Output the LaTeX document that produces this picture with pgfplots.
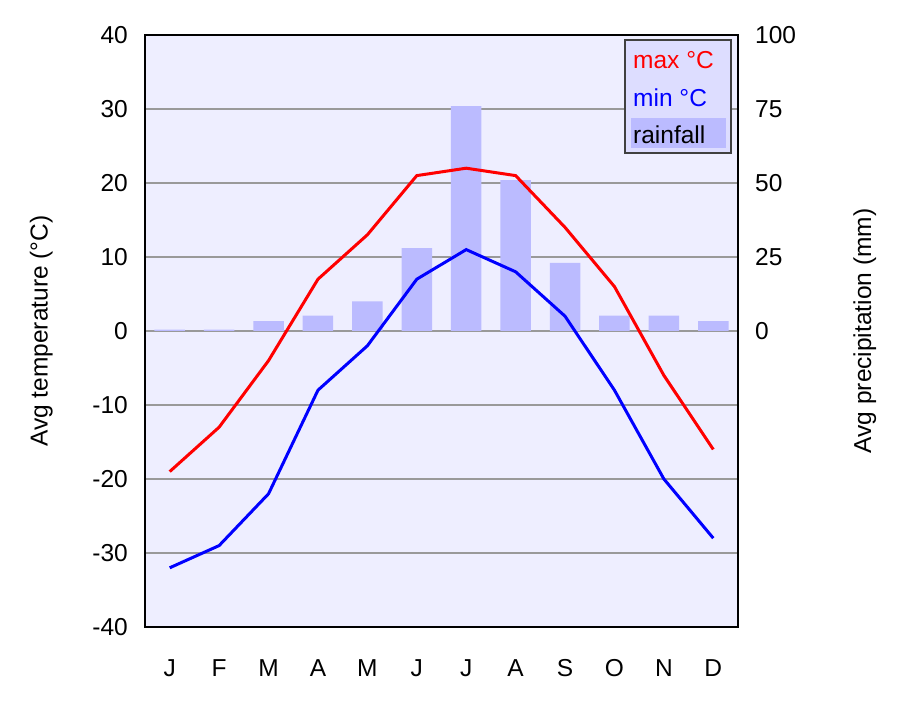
\documentclass[border=0pt]{standalone}
\usepackage{fontspec}
\setmainfont{Liberation Sans}
\usepackage{pgfplots}
\pgfplotsset{compat=1.18}
\definecolor{plotbg}{HTML}{EEEEFF}
\definecolor{barc}{HTML}{BBBBFF}
\definecolor{legbg}{HTML}{DDDDFF}
\definecolor{gridc}{HTML}{999999}
\begin{document}
\begin{tikzpicture}[x=1pt,y=1pt]
\useasboundingbox (-145,-93) rectangle (755,627);
\pgfplotsset{every axis/.append style={scale only axis, width=593pt, height=592pt,
  xmin=0.5, xmax=12.5, at={(0,0)}, anchor=south west,
  /pgf/number format/assume math mode=true,
  tick label style={font=\fontsize{24.5}{28}\selectfont, inner sep=0pt},
  label style={font=\fontsize{24.5}{28}\selectfont},
  major tick length=0pt}}
% background axis with grid
\begin{axis}[ymin=-40, ymax=40, ytick={-40,-30,...,40},
  xtick={1,...,12}, xticklabels={J,F,M,A,M,J,J,A,S,O,N,D},
  axis background/.style={fill=plotbg},
  ymajorgrids, grid style={gridc, line width=2pt},
  axis line style={line width=2pt},
  yticklabel style={xshift=-17pt},
  xticklabel style={yshift=-32pt},
  ylabel={Avg temperature (°C)},
  ylabel style={at={(axis description cs:-0.175,0.5)}, anchor=center, rotate=0}]
\end{axis}
% rainfall axis (right)
\begin{axis}[ymin=-100, ymax=100, ytick={0,25,50,75,100},
  axis y line*=right, axis x line=none, axis line style={draw=none},
  yticklabel style={xshift=17pt},
  ylabel={Avg precipitation (mm)},
  ylabel style={at={(axis description cs:1.214,0.5)}, anchor=center, rotate=0}]
\addplot[ybar, bar width=30.5pt, fill=barc, draw=none] coordinates {
(1,0.5) (2,0.5) (3,3.3) (4,5.2) (5,10) (6,28) (7,76) (8,51) (9,23) (10,5.2) (11,5.2) (12,3.3)};
\end{axis}
% temperature lines
\begin{axis}[ymin=-40, ymax=40, hide axis]
\addplot[red, line width=3pt] coordinates {
(1,-19) (2,-13) (3,-4) (4,7) (5,13) (6,21) (7,22) (8,21) (9,14) (10,6) (11,-6) (12,-16)};
\addplot[blue, line width=3pt] coordinates {
(1,-32) (2,-29) (3,-22) (4,-8) (5,-2) (6,7) (7,11) (8,8) (9,2) (10,-8) (11,-20) (12,-28)};
\end{axis}
% legend
\draw[fill=legbg, draw=black!75, line width=1.5pt] (480,587) rectangle (586,474);
\fill[barc] (486,509) rectangle (581,479);
\begin{scope}[every node/.style={anchor=west, inner sep=0pt, font=\fontsize{24.5}{28}\selectfont}]
\node[text=red] at (488,567) {max °C};
\node[text=blue] at (488,529) {min °C};
\node[text=black] at (488,492) {rainfall};
\end{scope}
\end{tikzpicture}
\end{document}
